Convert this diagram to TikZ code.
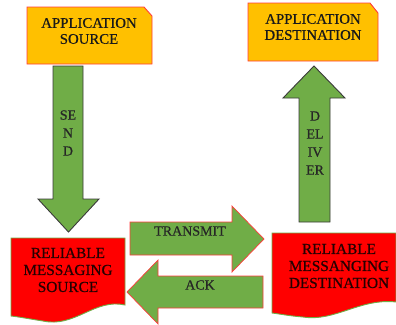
\documentclass[tikz,border=0pt]{standalone}
\usepackage{fontspec}
\setmainfont{Liberation Serif}
\newfontfamily\tnr[FakeBold=0.6]{Liberation Serif}
\definecolor{appor}{HTML}{FFC000}
\definecolor{boxred}{HTML}{FF3B3B}
\definecolor{agreen}{HTML}{70AD47}
\definecolor{darkline}{HTML}{3A3A3A}
\begin{document}
\begin{tikzpicture}[x=1pt,y=-1pt,
  appbox/.style={fill=appor,draw=boxred,line width=0.9pt},
  relbox/.style={fill=red,draw=agreen,line width=0.9pt},
  vertarrow/.style={fill=agreen,draw=darkline,line width=0.9pt,line join=miter},
  horarrow/.style={fill=agreen,draw=boxred,line width=0.7pt,line join=miter},
  lbl/.style={font=\tnr\fontsize{14.8}{16}\selectfont,align=center,inner sep=0pt,text=black!90},
  rlbl/.style={font=\tnr\fontsize{15.3}{17}\selectfont,align=center,inner sep=0pt,text=black!85!red},
  arrlbl/.style={font=\tnr\fontsize{14}{18}\selectfont,align=center,inner sep=0pt,text=black!85}]
\useasboundingbox (0,0) rectangle (396,324);
% Application source
\path[appbox] (27,7) -- (144,7) -- (152,16) -- (152,64) -- (27,64) -- cycle;
\node[lbl] (appsrc) at (89,31) {APPLICATION\\SOURCE};
% Application destination
\path[appbox] (248,3) -- (370,3) -- (378,13) -- (378,61) -- (248,61) -- cycle;
\node[lbl] (appdst) at (313,27) {APPLICATION\\DESTINATION};
% SEND arrow
\path[vertarrow] (53,66) -- (83,66) -- (83,199) -- (99,199) -- (68.5,232) -- (38,199) -- (53,199) -- cycle;
\node[arrlbl] (send) at (68,133) {SE\\N\\D};
% DELIVER arrow
\path[vertarrow] (314,66) -- (345,98) -- (330,98) -- (330,222) -- (299,222) -- (299,98) -- (283,98) -- cycle;
\node[arrlbl] (deliver) at (315,143) {D\\EL\\IV\\ER};
% Reliable messaging source
\path[relbox] (11,238) -- (125,238) -- (125,305) .. controls (95,298) and (75,328) .. (43,321) .. controls (30,319) and (20,317) .. (11,316) -- cycle;
\node[rlbl] (relsrc) at (68,270) {RELIABLE\\MESSAGING\\SOURCE};
% Reliable messaging destination
\path[relbox] (272,233) -- (396,233) -- (396,302) .. controls (360,298) and (335,322) .. (303,317) .. controls (290,316) and (280,314) .. (272,313) -- cycle;
\node[rlbl] (reldst) at (339,266) {RELIABLE\\MESSANGING\\DESTINATION};
% TRANSMIT arrow
\path[horarrow] (130,222) -- (232,222) -- (232,206) -- (264,239) -- (232,272) -- (232,255) -- (130,255) -- cycle;
\node[arrlbl] (transmit) at (190,231) {TRANSMIT};
% ACK arrow
\path[horarrow] (127,292) -- (158,260) -- (158,276) -- (263,276) -- (263,308) -- (158,308) -- (158,324) -- cycle;
\node[arrlbl] (ack) at (200,285) {ACK};
\end{tikzpicture}
\end{document}
